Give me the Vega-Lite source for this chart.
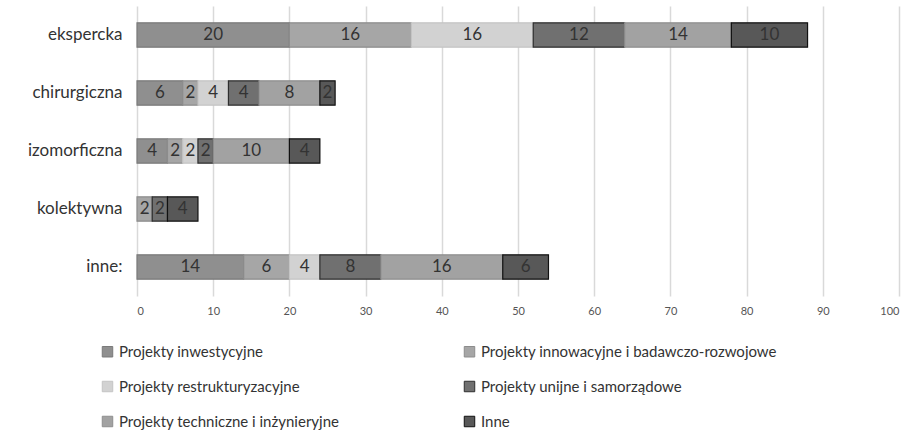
{
  "$schema": "https://vega.github.io/schema/vega-lite/v6.json",
  "width": 762,
  "height": 290,
  "autosize": "none",
  "padding": {"left": 137, "top": 6, "right": 12, "bottom": 142},
  "background": "white",
  "config": {"view": {"stroke": null}, "font": "Lato"},
  "data": {
    "values": [
      {"grupa": "ekspercka", "kategoria": "Projekty inwestycyjne", "liczba": 20},
      {"grupa": "ekspercka", "kategoria": "Projekty innowacyjne i badawczo-rozwojowe", "liczba": 16},
      {"grupa": "ekspercka", "kategoria": "Projekty restrukturyzacyjne", "liczba": 16},
      {"grupa": "ekspercka", "kategoria": "Projekty unijne i samorządowe", "liczba": 12},
      {"grupa": "ekspercka", "kategoria": "Projekty techniczne i inżynieryjne", "liczba": 14},
      {"grupa": "ekspercka", "kategoria": "Inne", "liczba": 10},
      {"grupa": "chirurgiczna", "kategoria": "Projekty inwestycyjne", "liczba": 6},
      {"grupa": "chirurgiczna", "kategoria": "Projekty innowacyjne i badawczo-rozwojowe", "liczba": 2},
      {"grupa": "chirurgiczna", "kategoria": "Projekty restrukturyzacyjne", "liczba": 4},
      {"grupa": "chirurgiczna", "kategoria": "Projekty unijne i samorządowe", "liczba": 4},
      {"grupa": "chirurgiczna", "kategoria": "Projekty techniczne i inżynieryjne", "liczba": 8},
      {"grupa": "chirurgiczna", "kategoria": "Inne", "liczba": 2},
      {"grupa": "izomorficzna", "kategoria": "Projekty inwestycyjne", "liczba": 4},
      {"grupa": "izomorficzna", "kategoria": "Projekty innowacyjne i badawczo-rozwojowe", "liczba": 2},
      {"grupa": "izomorficzna", "kategoria": "Projekty restrukturyzacyjne", "liczba": 2},
      {"grupa": "izomorficzna", "kategoria": "Projekty unijne i samorządowe", "liczba": 2},
      {"grupa": "izomorficzna", "kategoria": "Projekty techniczne i inżynieryjne", "liczba": 10},
      {"grupa": "izomorficzna", "kategoria": "Inne", "liczba": 4},
      {"grupa": "kolektywna", "kategoria": "Projekty innowacyjne i badawczo-rozwojowe", "liczba": 2},
      {"grupa": "kolektywna", "kategoria": "Projekty unijne i samorządowe", "liczba": 2},
      {"grupa": "kolektywna", "kategoria": "Inne", "liczba": 4},
      {"grupa": "inne:", "kategoria": "Projekty inwestycyjne", "liczba": 14},
      {"grupa": "inne:", "kategoria": "Projekty innowacyjne i badawczo-rozwojowe", "liczba": 6},
      {"grupa": "inne:", "kategoria": "Projekty restrukturyzacyjne", "liczba": 4},
      {"grupa": "inne:", "kategoria": "Projekty unijne i samorządowe", "liczba": 8},
      {"grupa": "inne:", "kategoria": "Projekty techniczne i inżynieryjne", "liczba": 16},
      {"grupa": "inne:", "kategoria": "Inne", "liczba": 6}
    ]
  },
  "transform": [
    {"calculate": "indexof(['Projekty inwestycyjne','Projekty innowacyjne i badawczo-rozwojowe','Projekty restrukturyzacyjne','Projekty unijne i samorządowe','Projekty techniczne i inżynieryjne','Inne'], datum.kategoria)", "as": "kolejnosc"},
    {"stack": "liczba", "groupby": ["grupa"], "sort": [{"field": "kolejnosc", "order": "ascending"}], "as": ["x0", "x1"]},
    {"calculate": "(datum.x0 + datum.x1) / 2", "as": "xm"}
  ],
  "encoding": {
    "y": {
      "field": "grupa",
      "type": "nominal",
      "sort": ["ekspercka", "chirurgiczna", "izomorficzna", "kolektywna", "inne:"],
      "scale": {"paddingInner": 0.58, "paddingOuter": 0.29},
      "axis": {"title": null, "domain": false, "ticks": false, "labelFontSize": 17, "labelColor": "#333333", "labelPadding": 15, "labelFont": "Lato"}
    }
  },
  "layer": [
    {
      "mark": {"type": "bar", "strokeWidth": 1.2},
      "encoding": {
        "x": {
          "field": "x0",
          "type": "quantitative",
          "scale": {"domain": [0, 100], "nice": false},
          "axis": {"title": null, "values": [0,10,20,30,40,50,60,70,80,90,100], "domain": false, "ticks": false, "labelFontSize": 11, "labelColor": "#555555", "labelPadding": 9, "gridColor": "#d9d9d9", "gridWidth": 1.5, "labelFont": "Lato"}
        },
        "x2": {"field": "x1"},
        "color": {
          "field": "kategoria",
          "type": "nominal",
          "scale": {
            "domain": ["Projekty inwestycyjne", "Projekty innowacyjne i badawczo-rozwojowe", "Projekty restrukturyzacyjne", "Projekty unijne i samorządowe", "Projekty techniczne i inżynieryjne", "Inne"],
            "range": ["#8f8f8f", "#a6a6a6", "#d2d2d2", "#707070", "#a2a2a2", "#585858"]
          },
          "legend": {
            "title": null,
            "orient": "none",
            "direction": "horizontal",
            "legendX": -37,
            "legendY": 338,
            "columns": 2,
            "columnPadding": 122,
            "rowPadding": 19,
            "symbolType": "square",
            "symbolSize": 110,
            "symbolStrokeWidth": 1,
            "labelFontSize": 15,
            "labelColor": "#333333",
            "labelFont": "Lato",
            "labelLimit": 400
          }
        },
        "stroke": {
          "field": "kategoria",
          "type": "nominal",
          "scale": {
            "domain": ["Projekty inwestycyjne", "Projekty innowacyjne i badawczo-rozwojowe", "Projekty restrukturyzacyjne", "Projekty unijne i samorządowe", "Projekty techniczne i inżynieryjne", "Inne"],
            "range": ["#7a7a7a", "#8c8c8c", "#c4c4c4", "#2e2e2e", "#8e8e8e", "#111111"]
          },
          "legend": null
        }
      }
    },
    {
      "mark": {"type": "text", "fontSize": 17, "color": "#333333", "align": "center", "baseline": "middle", "font": "Lato"},
      "encoding": {
        "x": {"field": "xm", "type": "quantitative"},
        "text": {"field": "liczba", "type": "quantitative"}
      }
    }
  ]
}
